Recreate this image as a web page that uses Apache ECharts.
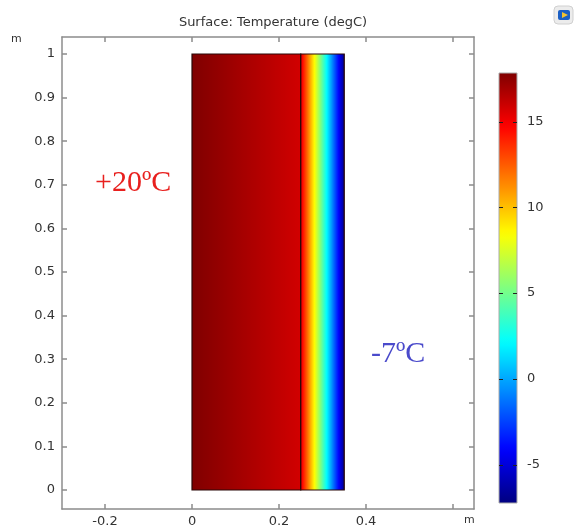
<!DOCTYPE html>
<html>
<head>
<meta charset="utf-8">
<script src="https://cdn.jsdelivr.net/npm/echarts@6/dist/echarts.min.js"></script>
<style>
  html, body { margin: 0; padding: 0; background: #fff; }
  #main { width: 576px; height: 527px; }
</style>
</head>
<body>
<div id="main"></div>
<script>
// axis ticks / labels
var xTicks = [-0.2, 0, 0.2, 0.4, 0.6];
var xLabels = [-0.2, 0, 0.2, 0.4];
var yTicks = [0, 0.1, 0.2, 0.3, 0.4, 0.5, 0.6, 0.7, 0.8, 0.9, 1];
var barTicks = [-5, 0, 5, 10, 15];

// wall geometry (m) and temperature at each layer edge (degC)
var layerEdges = [0, 0.25, 0.35];
var edgeTemps = [17.83, 15.8, -7.24];
var wallSpan = [0, 1];
var tempRange = [-7.24, 17.83];

// jet-like rainbow colour table
var rainbow = [
  [0, [0, 0, 127]],
  [0.125, [0, 0, 255]],
  [0.375, [0, 255, 255]],
  [0.625, [255, 255, 0]],
  [0.875, [255, 0, 0]],
  [1, [127, 0, 0]]
];

function colorOf(t) {
  var f = (t - tempRange[0]) / (tempRange[1] - tempRange[0]);
  f = Math.max(0, Math.min(1, f));
  for (var i = 1; i < rainbow.length; i++) {
    if (f <= rainbow[i][0]) {
      var a = rainbow[i - 1], b = rainbow[i];
      var k = (f - a[0]) / (b[0] - a[0]);
      var c = a[1].map(function (v, j) { return Math.round(v + (b[1][j] - v) * k); });
      return 'rgb(' + c.join(',') + ')';
    }
  }
  return 'rgb(127,0,0)';
}

function gradient(t0, t1, vertical) {
  var stops = [];
  var n = 60;
  for (var i = 0; i <= n; i++) {
    stops.push({ offset: i / n, color: colorOf(t0 + (t1 - t0) * i / n) });
  }
  return vertical
    ? new echarts.graphic.LinearGradient(0, 0, 0, 1, stops)
    : new echarts.graphic.LinearGradient(0, 0, 1, 0, stops);
}

var layers = [];
for (var i = 0; i < layerEdges.length - 1; i++) {
  layers.push([layerEdges[i], layerEdges[i + 1], edgeTemps[i], edgeTemps[i + 1]]);
}

var frame = { color: '#8c8c8c', width: 1.5 };
var lbl = { color: '#333', fontSize: 13, fontFamily: 'DejaVu Sans' };

var chart = echarts.init(document.getElementById('main'));
var option = {
  animation: false,
  backgroundColor: '#fff',
  title: {
    text: 'Surface: Temperature (degC)',
    left: 268, top: 11, textAlign: 'center',
    textStyle: { color: '#333', fontSize: 13, fontWeight: 'normal', fontFamily: 'DejaVu Sans' }
  },
  grid: [
    { left: 62, top: 37, width: 412, height: 472, outerBoundsMode: 'none' },
    { left: 499, top: 73, width: 18, height: 430, outerBoundsMode: 'none' }
  ],
  xAxis: [
    {
      gridIndex: 0, type: 'value', min: -0.2989, max: 0.6483, position: 'bottom',
      axisLine: { show: true, onZero: false, lineStyle: frame },
      axisTick: { show: true, inside: true, length: 5, customValues: xTicks, lineStyle: frame },
      axisLabel: Object.assign({ customValues: xLabels, margin: 6 }, lbl),
      splitLine: { show: false }
    },
    {
      gridIndex: 0, type: 'value', min: -0.2989, max: 0.6483, position: 'top',
      axisLine: { show: true, onZero: false, lineStyle: frame },
      axisTick: { show: true, inside: true, length: 5, customValues: xTicks, lineStyle: frame },
      axisLabel: { show: false },
      splitLine: { show: false }
    },
    {
      gridIndex: 1, type: 'value', min: 0, max: 1, show: false
    }
  ],
  yAxis: [
    {
      gridIndex: 0, type: 'value', min: -0.0436, max: 1.039, position: 'left',
      axisLine: { show: true, onZero: false, lineStyle: frame },
      axisTick: { show: true, inside: true, length: 5, customValues: yTicks, lineStyle: frame },
      axisLabel: Object.assign({ customValues: yTicks, margin: 7 }, lbl),
      splitLine: { show: false }
    },
    {
      gridIndex: 0, type: 'value', min: -0.0436, max: 1.039, position: 'right',
      axisLine: { show: true, onZero: false, lineStyle: frame },
      axisTick: { show: true, inside: true, length: 5, customValues: yTicks, lineStyle: frame },
      axisLabel: { show: false },
      splitLine: { show: false }
    },
    {
      gridIndex: 1, type: 'value', min: tempRange[0], max: tempRange[1], position: 'right',
      axisLine: { show: false },
      axisTick: { show: false },
      axisLabel: Object.assign({ customValues: barTicks, margin: 10 }, lbl),
      splitLine: { show: false }
    }
  ],
  series: [
    {
      type: 'custom',
      xAxisIndex: 0, yAxisIndex: 0,
      data: layers,
      encode: { x: [0, 1] },
      renderItem: function (params, api) {
        var p0 = api.coord([api.value(0), wallSpan[1]]);
        var p1 = api.coord([api.value(1), wallSpan[0]]);
        return {
          type: 'rect',
          shape: { x: p0[0], y: p0[1], width: p1[0] - p0[0], height: p1[1] - p0[1] },
          style: { fill: gradient(api.value(2), api.value(3), false), stroke: '#2a0808', lineWidth: 1.2 }
        };
      }
    },
    {
      type: 'custom',
      xAxisIndex: 2, yAxisIndex: 2,
      data: [[0, 1, tempRange[0], tempRange[1]]],
      encode: { x: [0, 1] },
      renderItem: function (params, api) {
        var p0 = api.coord([api.value(0), api.value(3)]);
        var p1 = api.coord([api.value(1), api.value(2)]);
        var children = [{
          type: 'rect',
          shape: { x: p0[0], y: p0[1], width: p1[0] - p0[0], height: p1[1] - p0[1] },
          style: { fill: gradient(api.value(3), api.value(2), true), stroke: '#aaa', lineWidth: 1 }
        }];
        barTicks.forEach(function (t) {
          var y = Math.round(api.coord([0, t])[1]) + 0.5;
          children.push({ type: 'line', shape: { x1: p0[0], y1: y, x2: p0[0] + 4, y2: y }, style: { stroke: '#222', lineWidth: 1 } });
          children.push({ type: 'line', shape: { x1: p1[0] - 4, y1: y, x2: p1[0], y2: y }, style: { stroke: '#222', lineWidth: 1 } });
        });
        return { type: 'group', children: children };
      }
    }
  ],
  graphic: [
    { type: 'text', left: 11, top: 34, style: { text: 'm', fill: '#333', font: '11px DejaVu Sans' } },
    { type: 'text', left: 464, top: 515, style: { text: 'm', fill: '#333', font: '11px DejaVu Sans' } },
    {
      type: 'text', x: 95, y: 183,
      style: { text: '+20ºC', fill: '#e8201e', font: '30px "Liberation Serif"', textVerticalAlign: 'middle' }
    },
    {
      type: 'text', x: 371, y: 354,
      style: { text: '-7ºC', fill: '#4a4acb', font: '30px "Liberation Serif"', textVerticalAlign: 'middle' }
    },
    {
      type: 'group', x: 554, y: 6,
      children: [
        { type: 'rect', shape: { x: 0, y: 0, width: 19, height: 18, r: 4 }, style: { fill: '#ececec', stroke: '#d0d0d0' } },
        { type: 'rect', shape: { x: 4, y: 4, width: 12, height: 10, r: 2 }, style: { fill: '#1b5fc4' } },
        { type: 'polygon', shape: { points: [[8, 6], [8, 12], [14, 9]] }, style: { fill: '#f2c230' } }
      ]
    }
  ]
};
chart.setOption(option);
</script>
</body>
</html>
